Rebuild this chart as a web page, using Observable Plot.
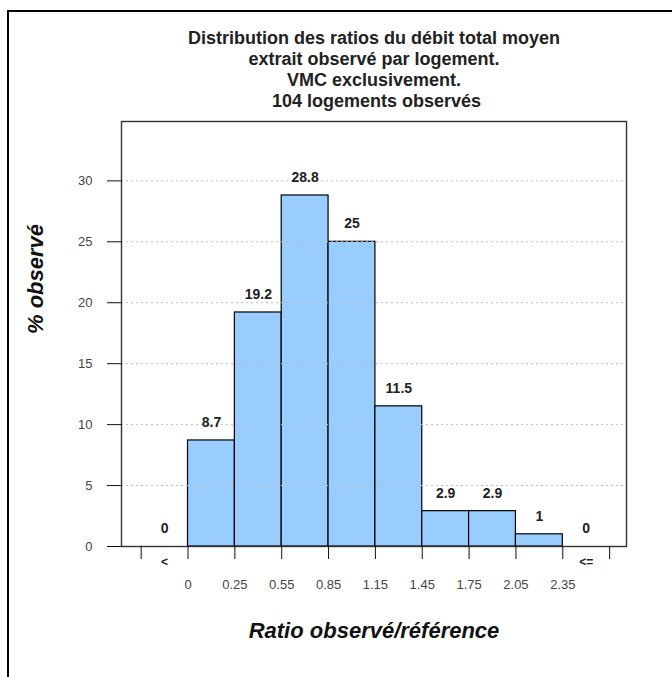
<!DOCTYPE html>
<html><head><meta charset="utf-8">
<script src="https://cdn.jsdelivr.net/npm/d3@7"></script>
<script src="https://cdn.jsdelivr.net/npm/@observablehq/plot@0.6"></script>
<style>
body{margin:0;background:#fff;}
#wrap{position:relative;width:672px;height:677px;overflow:hidden;background:#fff;}
#chart{position:absolute;left:0;top:0;}
#border{position:absolute;left:7px;top:10px;width:700px;height:700px;border-left:2px solid #000;border-top:2px solid #000;pointer-events:none;}
</style></head><body>
<div id="wrap"><div id="chart"></div><div id="border"></div></div>
<script>
// Data
const bins = ["<0", "0-0.25", "0.25-0.55", "0.55-0.85", "0.85-1.15", "1.15-1.45", "1.45-1.75", "1.75-2.05", "2.05-2.35", ">2.35"];
const percents = [0, 8.7, 19.2, 28.8, 25, 11.5, 2.9, 2.9, 1, 0];
const edgeLabels = ["0", "0.25", "0.55", "0.85", "1.15", "1.45", "1.75", "2.05", "2.35"];
const outerLabels = ["<", "<="];
const yTicks = [0, 5, 10, 15, 20, 25, 30];
const titleLines = ["Distribution des ratios du débit total moyen", "extrait observé par logement.", "VMC exclusivement.", " 104 logements observés"];
const xTitle = "Ratio observé/référence";
const yTitle = "% observé";

const table = bins.map((b, i) => ({bin: b, i, p: percents[i]}));
const font = "'Liberation Sans', Arial, Helvetica, sans-serif";

const chart = Plot.plot({
  width: 672,
  height: 677,
  marginLeft: 121,
  marginRight: 46,
  marginTop: 121,
  marginBottom: 131,
  style: {fontFamily: font, background: "transparent"},
  x: {type: "linear", domain: [-0.42, 10.36]},
  y: {domain: [0, 34.87]},
  marks: [
    Plot.rectY(table.filter(d => d.p > 0), {
      x1: d => d.i, x2: d => d.i + 1, y: "p",
      fill: "#99ccff", stroke: "#000", strokeWidth: 1.2, inset: 0
    }),
    Plot.gridY(yTicks.filter(d => d > 0), {stroke: "#bdbdbd", strokeOpacity: 1, strokeDasharray: "2,3", strokeWidth: 1}),
    Plot.frame({stroke: "#333", strokeWidth: 1.4}),
    Plot.axisY(yTicks, {tickSize: 14, tickPadding: 15, fontSize: 13, stroke: "#111", fill: "#444", label: null}),
    Plot.axisX(d3.range(11), {tickSize: 13, tickFormat: () => "", stroke: "#111", label: null}),
    Plot.text(table, {
      x: d => d.i + 0.5, y: "p", text: d => String(d.p), dy: -18,
      fontWeight: "bold", fontSize: 14, fill: "#222"
    }),
    Plot.text(edgeLabels, {x: (d, i) => i + 1, text: d => d, frameAnchor: "bottom", dy: 42, fontSize: 13, fill: "#444"}),
    Plot.text(outerLabels, {x: (d, i) => i === 0 ? 0.5 : 9.5, text: d => d, frameAnchor: "bottom", dy: 19, fontSize: 12, fontWeight: "bold", fill: "#222"}),
    Plot.text([titleLines.join("\n")], {frameAnchor: "top", lineAnchor: "middle", dy: -52.5, lineHeight: 1.17, fontSize: 18, fontWeight: "bold", fill: "#222"}),
    Plot.text([yTitle], {frameAnchor: "left", rotate: -90, dx: -86, fontSize: 22, fontWeight: "bold", fontStyle: "italic", fill: "#111"}),
    Plot.text([xTitle], {frameAnchor: "bottom", dy: 91, fontSize: 22, fontWeight: "bold", fontStyle: "italic", fill: "#111"})
  ]
});
document.getElementById("chart").appendChild(chart);
</script>
</body></html>
